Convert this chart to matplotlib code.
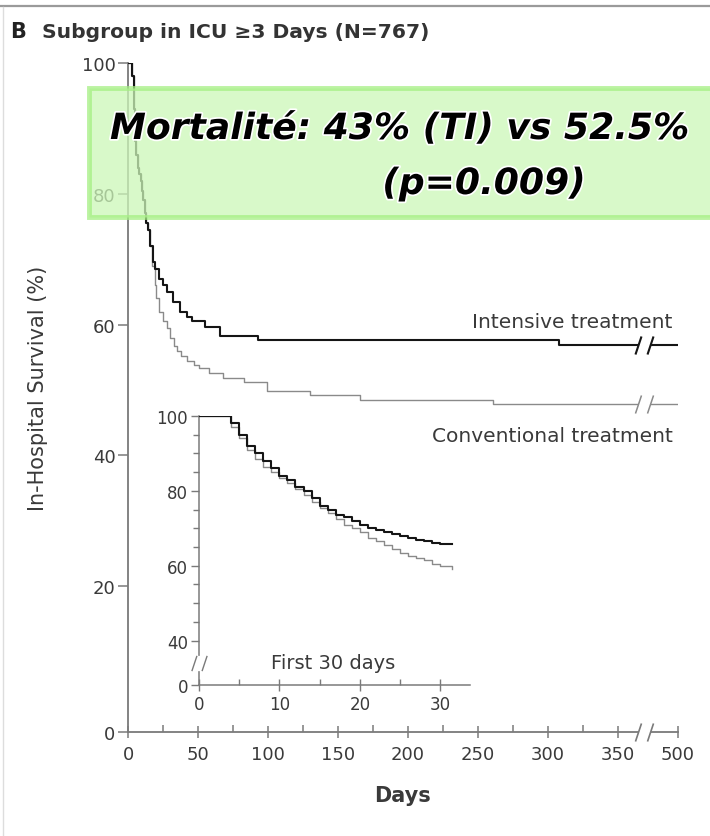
import numpy as np
import matplotlib
matplotlib.use("Agg")
import matplotlib.pyplot as plt
from matplotlib.path import Path
from matplotlib.patches import Rectangle
import matplotlib.patheffects as pe

plt.rcParams['font.family'] = ['DejaVu Sans']

# survie hospitalière, sous-groupe en USI >= 3 jours (courbes de Kaplan-Meier)
jours_ti = [0, 3, 4, 5, 6, 7, 8, 9, 10, 11, 12, 13, 14, 16, 18, 19, 22, 25, 28,
            32, 37, 42, 46, 55, 66, 93, 308, 500]
surv_ti = [100, 98, 93, 88, 86, 84, 83, 82, 80.5, 79, 77, 75.5, 74.5, 72, 69.5,
           68.5, 67, 66, 65, 63.5, 62, 61.2, 60.6, 59.7, 58.3, 57.7, 56.9, 56.9]

jours_tc = [0, 3, 4, 5, 6, 7, 8, 9, 10, 11, 12, 13, 14, 16, 17, 19, 20, 22, 25,
            28, 30, 33, 35, 38, 42, 47, 51, 58, 68, 83, 99, 130, 166, 261, 500]
surv_tc = [100, 98, 93, 88, 86, 84, 83, 82, 80.5, 79, 77, 75.5, 74.5, 72, 69,
           66, 64, 62, 60.5, 59.5, 58, 56.8, 56, 55.2, 54.4, 53.8, 53.3, 52.6,
           51.8, 51.3, 49.9, 49.2, 48.4, 47.8, 47.8]

# zoom sur les 30 premiers jours
j30 = [0, 4, 5, 6, 7, 8, 9, 10, 11, 12, 13, 14, 15, 16, 17, 18, 19, 20, 21,
       22, 23, 24, 25, 26, 27, 28, 29, 30, 31.5]
ti30 = [100, 98, 95, 92, 90, 88, 86, 84, 83, 81, 80, 78, 76, 75, 73.5, 73, 72,
        71, 70, 69.5, 69, 68.5, 68, 67.5, 67, 66.5, 66, 65.8, 65.7]
tc30 = [100, 97, 94, 91, 88.5, 86.5, 85, 83.5, 82, 80.5, 79, 77, 75.5, 74,
        72.5, 71, 70, 69, 67.5, 66.5, 65.5, 64.5, 63.5, 62.5, 62, 61.5, 60.5,
        60, 59.2]

xticks = [0, 50, 100, 150, 200, 250, 300, 350, 500]
yticks = [0, 20, 40, 60, 80, 100]
in_xticks = [0, 10, 20, 30]
in_yticks = [0, 40, 60, 80, 100]

C_TI = '#151515'
C_TC = '#8a8a8a'
C_AX = '#7a7a7a'
C_TXT = '#3a3a3a'


# axe des jours coupé après 360 jours
def fx(x):
    x = np.asarray(x, dtype=float)
    return np.where(x <= 360, x, 360 + (x - 360) * 0.235)


def fx_inv(u):
    u = np.asarray(u, dtype=float)
    return np.where(u <= 360, u, 360 + (u - 360) / 0.235)


def fy(y):
    y = np.asarray(y, dtype=float)
    return np.where(y >= 20, y, 20 - (20 - y) * 1.1145)


def fy_inv(v):
    v = np.asarray(v, dtype=float)
    return np.where(v >= 20, v, 20 - (20 - v) / 1.1145)


# axe y de l'encart coupé sous 40
def gy(y):
    y = np.asarray(y, dtype=float)
    return np.where(y >= 40, y, 40 - (40 - y) * 0.296)


def gy_inv(v):
    v = np.asarray(v, dtype=float)
    return np.where(v >= 40, v, 40 - (40 - v) / 0.296)


slash = Path([(-3, -3), (-1, 3), (1, -3), (3, 3)],
             [Path.MOVETO, Path.LINETO, Path.MOVETO, Path.LINETO])
gap = Path([(-3, -3), (1, -3), (3, 3), (-1, 3), (-3, -3)])


def coupure(ax, x, y, color, ms=13, lw=1.2):
    ax.plot([x], [y], marker=gap, ms=ms, mfc='white', mec='none',
            ls='none', zorder=5, clip_on=False)
    ax.plot([x], [y], marker=slash, ms=ms, mec=color, mew=lw,
            ls='none', zorder=6, clip_on=False)


W, H = 710, 837
fig = plt.figure(figsize=(W / 100, H / 100), dpi=100)

ax = fig.add_axes([128 / W, (H - 733) / H, (678 - 128) / W, (733 - 64) / H])
ax.set_facecolor('none')
ax.set_xscale('function', functions=(fx, fx_inv))
ax.set_yscale('function', functions=(fy, fy_inv))
ax.set_xlim(0, 500)
ax.set_ylim(0, 100)

ax.step(jours_tc, surv_tc, where='post', color=C_TC, lw=1.0, zorder=3)
ax.step(jours_ti, surv_ti, where='post', color=C_TI, lw=1.5, zorder=4)

for s in ['top', 'right']:
    ax.spines[s].set_visible(False)
for s in ['left', 'bottom']:
    ax.spines[s].set_color(C_AX)
    ax.spines[s].set_linewidth(1.3)

ax.set_xticks(xticks)
ax.set_xticks([25, 75, 125, 175, 225, 275, 325], minor=True)
ax.set_yticks(yticks)
ax.set_yticks([], minor=True)
ax.tick_params(axis='x', which='major', direction='inout', length=9, width=1.1,
               color=C_AX, labelsize=13, labelcolor=C_TXT, pad=5)
ax.tick_params(axis='x', which='minor', direction='in', length=5, width=1.1,
               color=C_AX)
ax.tick_params(axis='y', which='major', direction='out', length=7, width=1.1,
               color=C_AX, labelsize=13, labelcolor=C_TXT, pad=2)
ax.set_xlabel('Days', fontsize=15, fontweight='bold', color=C_TXT, labelpad=16)
ax.set_ylabel('In-Hospital Survival (%)', fontsize=15, color=C_TXT)
ax.yaxis.set_label_coords(-80 / 550, 0.515)

coupure(ax, 398, 0, C_AX)
coupure(ax, 398, surv_ti[-1], C_TI, lw=1.5)
coupure(ax, 398, surv_tc[-1], C_TC, lw=1.1)

ax.text(484, 60.4, 'Intensive treatment', ha='right', va='center',
        fontsize=14.5, color=C_TXT)
ax.text(484, 43.1, 'Conventional treatment', ha='right', va='center',
        fontsize=14.5, color=C_TXT)

# encart : 30 premiers jours
ins = fig.add_axes([199 / W, (H - 686) / H, (470 - 199) / W, (686 - 417) / H])
ins.set_facecolor('none')
ins.set_yscale('function', functions=(gy, gy_inv))
ins.set_xlim(0, 33.7)
ins.set_ylim(0, 100)
ins.step(j30, tc30, where='post', color=C_TC, lw=1.0, zorder=3)
ins.step(j30, ti30, where='post', color=C_TI, lw=1.5, zorder=4)
for s in ['top', 'right']:
    ins.spines[s].set_visible(False)
for s in ['left', 'bottom']:
    ins.spines[s].set_color(C_AX)
    ins.spines[s].set_linewidth(1.1)
ins.set_xticks(in_xticks)
ins.set_xticks([5, 15, 25], minor=True)
ins.set_yticks(in_yticks)
ins.set_yticks([45, 50, 55, 65, 70, 75, 85, 90, 95], minor=True)
ins.tick_params(axis='x', which='major', direction='inout', length=8, width=1.0,
                color=C_AX, labelsize=12, labelcolor=C_TXT, pad=3)
ins.tick_params(axis='x', which='minor', direction='in', length=4, width=1.0,
                color=C_AX)
ins.tick_params(axis='y', which='major', direction='out', length=6, width=1.0,
                color=C_AX, labelsize=12, labelcolor=C_TXT, pad=2)
ins.tick_params(axis='y', which='minor', direction='out', length=4, width=1.0,
                color=C_AX)
coupure(ins, 0, 20, C_AX, ms=11, lw=1.0)
ins.text(16.7, 20.5, 'First 30 days', ha='center', va='center',
         fontsize=14, color=C_TXT)

# titre du panneau
fig.text(10 / W, 1 - 32 / H, 'B', fontsize=15, fontweight='bold',
         color='#222222', va='center')
fig.text(42 / W, 1 - 32 / H, 'Subgroup in ICU \u22653 Days (N=767)',
         fontsize=14.6, fontweight='bold', color='#333333', va='center')
fig.add_artist(plt.Line2D([0, 1], [1 - 7 / H, 1 - 7 / H], color='#9a9a9a',
                          lw=1.6, transform=fig.transFigure))
fig.add_artist(plt.Line2D([3 / W, 3 / W], [0, 1 - 8 / H], color='#dddddd',
                          lw=1.0, transform=fig.transFigure))

# encadré vert
fig.add_artist(Rectangle((89 / W, 1 - 218 / H), 700 / W, 129 / H,
                         transform=fig.transFigure, facecolor='#ccf7b8',
                         alpha=0.75, edgecolor='#a4ef82', lw=3.5,
                         zorder=10, clip_on=False))
ombre = [pe.withStroke(linewidth=2.5, foreground='white')]
fig.text(110 / W, 1 - 130 / H, 'Mortalité: 43% (TI) vs 52.5%', fontsize=26,
         fontweight='bold', fontstyle='italic',
         color='black', va='center', ha='left', zorder=11, path_effects=ombre)
fig.text(484 / W, 1 - 185 / H, '(p=0.009)', fontsize=26,
         fontweight='bold', fontstyle='italic',
         color='black', va='center', ha='center', zorder=11,
         path_effects=ombre)

fig.savefig('out.png', dpi=100)
